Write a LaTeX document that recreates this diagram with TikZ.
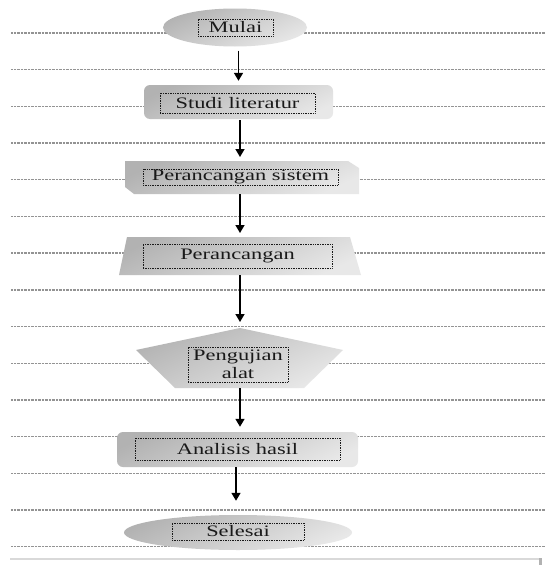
\documentclass[tikz,border=0pt]{standalone}
\usepackage{fontspec}
\newfontfamily\wfont[FakeStretch=1.4]{Liberation Serif}
\usetikzlibrary{arrows.meta,shapes.geometric}
\begin{document}
\begin{tikzpicture}[x=1pt,y=-1pt,
 guide/.style={draw=gray!85, line width=1.4pt, dash pattern=on 0.7pt off 0.7pt},
 fillshade/.style={top color=gray!60, bottom color=gray!18, shading angle=25, draw=none},
 inbox/.style={draw=black!90, densely dotted, line width=0.7pt, inner sep=0pt,
   font=\wfont\fontsize{16}{18}\selectfont, text=black!90, align=center},
 arr/.style={draw=black, line width=1.5pt, -{Triangle[width=9pt,length=8pt]}}]
\useasboundingbox (0,0) rectangle (545,565);
\fill[white] (0,0) rectangle (545,565);
% guide lines
\foreach \k in {0,...,14}
  \draw[guide] (11,{32.9+36.7*\k}) -- (545,{32.9+36.7*\k});
% bottom edge
\draw[gray!30, line width=2pt] (10,559) -- (540,559);
\draw[gray!60, line width=3pt] (540,558) -- (540,565);
% Mulai
\node[ellipse, fillshade, minimum width=144pt, minimum height=38pt] (mulai) at (235,27.5) {};
\node[inbox, minimum width=75pt, minimum height=17pt] (mulaiT) at (235.5,27.5) {Mulai};
% Studi literatur
\node[rectangle, rounded corners=6pt, fillshade, minimum width=189pt, minimum height=34pt] (studi) at (238.5,102) {};
\node[inbox, minimum width=155pt, minimum height=20pt] (studiT) at (237.5,103) {Studi literatur};
% Perancangan sistem
\shade[fillshade] (125,161) -- (348,161) -- (359,168) -- (359,194) -- (134,194) -- (125,187) -- cycle;
\coordinate (sistemN) at (240,161);
\coordinate (sistemS) at (240,194);
\node[inbox, minimum width=195pt, minimum height=16pt] (sistemT) at (240.5,177) {Perancangan sistem};
% Perancangan
\shade[fillshade] (127,237) -- (350,237) -- (361,275) -- (119,275) -- cycle;
\coordinate (rancN) at (240,237);
\coordinate (rancS) at (240,275);
\node[inbox, minimum width=189pt, minimum height=24pt] (rancT) at (237.5,256) {Perancangan};
% Pengujian alat
\shade[fillshade] (240,328) -- (343,350) -- (304,388) -- (175,388) -- (136,350) -- cycle;
\coordinate (pengN) at (240,328);
\coordinate (pengS) at (240,388);
\node[inbox, minimum width=100pt, minimum height=35pt] (pengT) at (238,364.5) {Pengujian\\alat};
% Analisis hasil
\node[rectangle, rounded corners=6pt, fillshade, minimum width=241pt, minimum height=35pt] (ana) at (237.5,449.5) {};
\node[inbox, minimum width=205pt, minimum height=22pt] (anaT) at (237.5,449) {Analisis hasil};
\coordinate (anaS) at (236,467);
% Selesai
\node[ellipse, fillshade, minimum width=228pt, minimum height=35pt] (selesai) at (238,532.5) {};
\node[inbox, minimum width=132pt, minimum height=17pt] (selesaiT) at (238,531.5) {Selesai};
% arrows
\draw[arr, shorten <=4pt, shorten >=4pt] (mulai.south -| studi.north) -- (studi.north);
\draw[arr, shorten <=1pt, shorten >=4pt] (studi.south -| sistemN) -- (sistemN);
\draw[arr, shorten >=4pt] (sistemS) -- (rancN);
\draw[arr, shorten >=6pt] (rancS) -- (pengN);
\draw[arr, shorten >=5pt] (pengS) -- (pengS |- ana.north);
\draw[arr, shorten >=14pt] (anaS) -- (anaS |- selesai.north);
\end{tikzpicture}
\end{document}
